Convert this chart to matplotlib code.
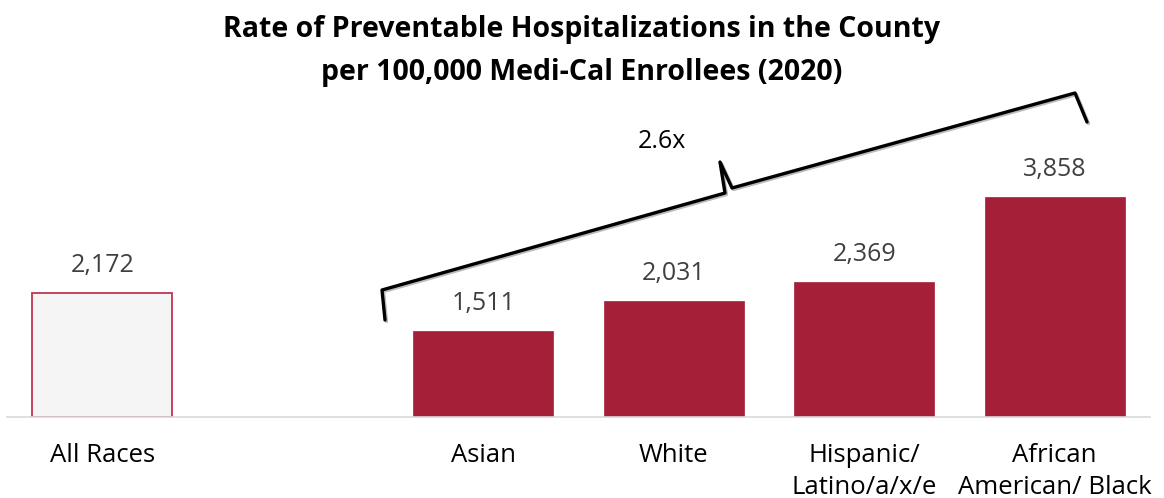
import matplotlib
matplotlib.use("Agg")
import matplotlib.pyplot as plt
from matplotlib.lines import Line2D

plt.rcParams['font.family'] = ['Open Sans', 'DejaVu Sans']

categories = ["All Races", "", "Asian", "White", "Hispanic/\nLatino/a/x/e", "African\nAmerican/ Black"]
values = [2172, None, 1511, 2031, 2369, 3858]
title = "Rate of Preventable Hospitalizations in the County\nper 100,000 Medi-Cal Enrollees (2020)"
ratio_label = "2.6x"

W, H = 1164, 498
fig = plt.figure(figsize=(W/100, H/100), dpi=100)
ax_left, ax_right = 7/W, 1150/W
ax_bottom = (H-417)/H
ymax = 4500
ax_h = ymax*0.057/H
ax = fig.add_axes([ax_left, ax_bottom, ax_right-ax_left, ax_h])

bar_red = "#A61F38"
for i, (c, v) in enumerate(zip(categories, values)):
    if v is None:
        continue
    if i == 0:
        ax.bar(i, v, width=0.735, color="#F5F5F5", edgecolor="#C0354F", linewidth=1.3, zorder=2)
    else:
        ax.bar(i, v, width=0.735, color=bar_red, edgecolor=bar_red, linewidth=0.5, zorder=2)
    ax.annotate(f"{v:,}", (i, v), xytext=(0, 20), textcoords="offset points",
                ha="center", va="center", fontsize=18, color="#404040")

ax.set_xlim(-0.5, 5.5)
ax.set_ylim(0, ymax)
ax.set_xticks(range(len(categories)))
ax.set_xticklabels(categories, fontsize=18.5, color="black", linespacing=1.4)
ax.tick_params(axis="x", length=0, pad=18.5)
ax.set_yticks([])
for s in ["top", "right", "left"]:
    ax.spines[s].set_visible(False)
ax.spines["bottom"].set_color("#D9D9D9")
ax.spines["bottom"].set_linewidth(1.2)

fig.text(582/W, 1 - 51/H, title, ha="center", va="center", fontsize=20.5, fontweight="bold",
         linespacing=1.6)

# bracket annotation (figure pixel coords)
px = [385, 382, 725, 720, 732, 1075, 1087]
py = [320, 290, 193, 162, 188, 93, 122]
fx = [x/W for x in px]
fy = [1 - y/H for y in py]
shadow = Line2D([x+1.5/W for x in fx], [y-1.5/H for y in fy], transform=fig.transFigure,
                color="#BBBBBB", lw=2.4, solid_joinstyle="round", solid_capstyle="round")
fig.add_artist(shadow)
fig.add_artist(Line2D(fx, fy, transform=fig.transFigure, color="black", lw=2.4,
                      solid_joinstyle="round", solid_capstyle="round"))
fig.text(662/W, 1 - 141/H, ratio_label, ha="center", va="center", fontsize=18, color="black")

fig.savefig("out.png", dpi=100)
